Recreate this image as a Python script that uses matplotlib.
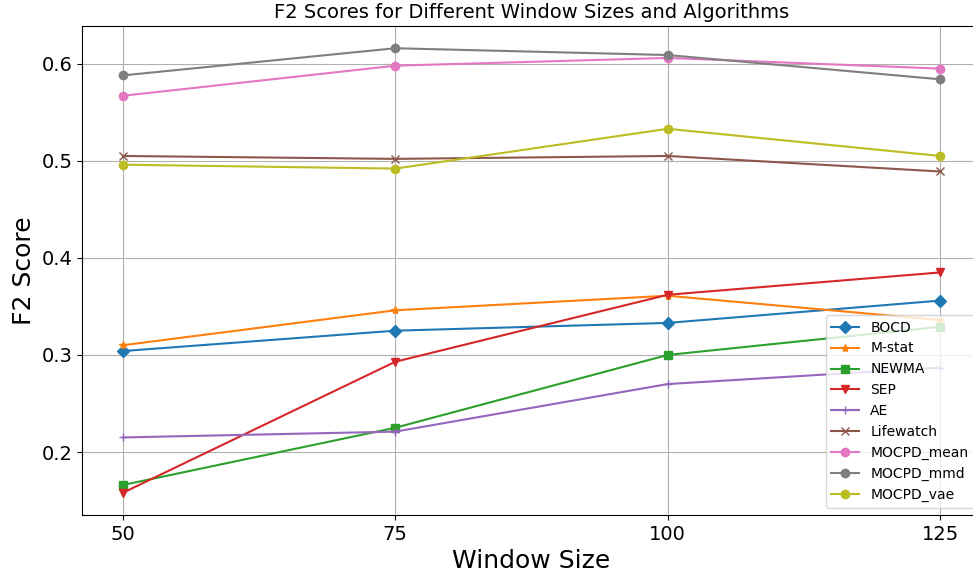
import matplotlib
matplotlib.use("Agg")
import matplotlib.pyplot as plt

window_sizes = [50, 75, 100, 125]
algorithms = ["BOCD", "M-stat", "NEWMA", "SEP", "AE", "Lifewatch",
              "MOCPD_mean", "MOCPD_mmd", "MOCPD_vae"]
bocd = [0.304, 0.325, 0.333, 0.356]
mstat = [0.310, 0.346, 0.361, 0.336]
newma = [0.166, 0.225, 0.300, 0.329]
sep = [0.158, 0.293, 0.362, 0.385]
ae = [0.215, 0.221, 0.270, 0.287]
lifewatch = [0.505, 0.502, 0.505, 0.489]
mocpd_mean = [0.567, 0.598, 0.606, 0.595]
mocpd_mmd = [0.588, 0.616, 0.609, 0.584]
mocpd_vae = [0.496, 0.492, 0.533, 0.505]

series = [bocd, mstat, newma, sep, ae, lifewatch, mocpd_mean, mocpd_mmd, mocpd_vae]
markers = ["D", "*", "s", "v", "+", "x", "o", "o", "o"]

fig = plt.figure(figsize=(9.73, 5.73), dpi=100)
ax = fig.add_axes([82/973, 58/573, (981-82)/973, (515-26)/573])
for name, vals, m in zip(algorithms, series, markers):
    ax.plot(window_sizes, vals, marker=m, label=name)
ax.set_xticks(window_sizes)
ax.tick_params(labelsize=14)
ax.set_xlabel("Window Size", fontsize=18)
ax.set_ylabel("F2 Score", fontsize=18)
ax.set_title("F2 Scores for Different Window Sizes and Algorithms", fontsize=14)
ax.grid(True)
ax.legend(loc="lower right", fontsize=10)
fig.savefig("out.png", dpi=100)
